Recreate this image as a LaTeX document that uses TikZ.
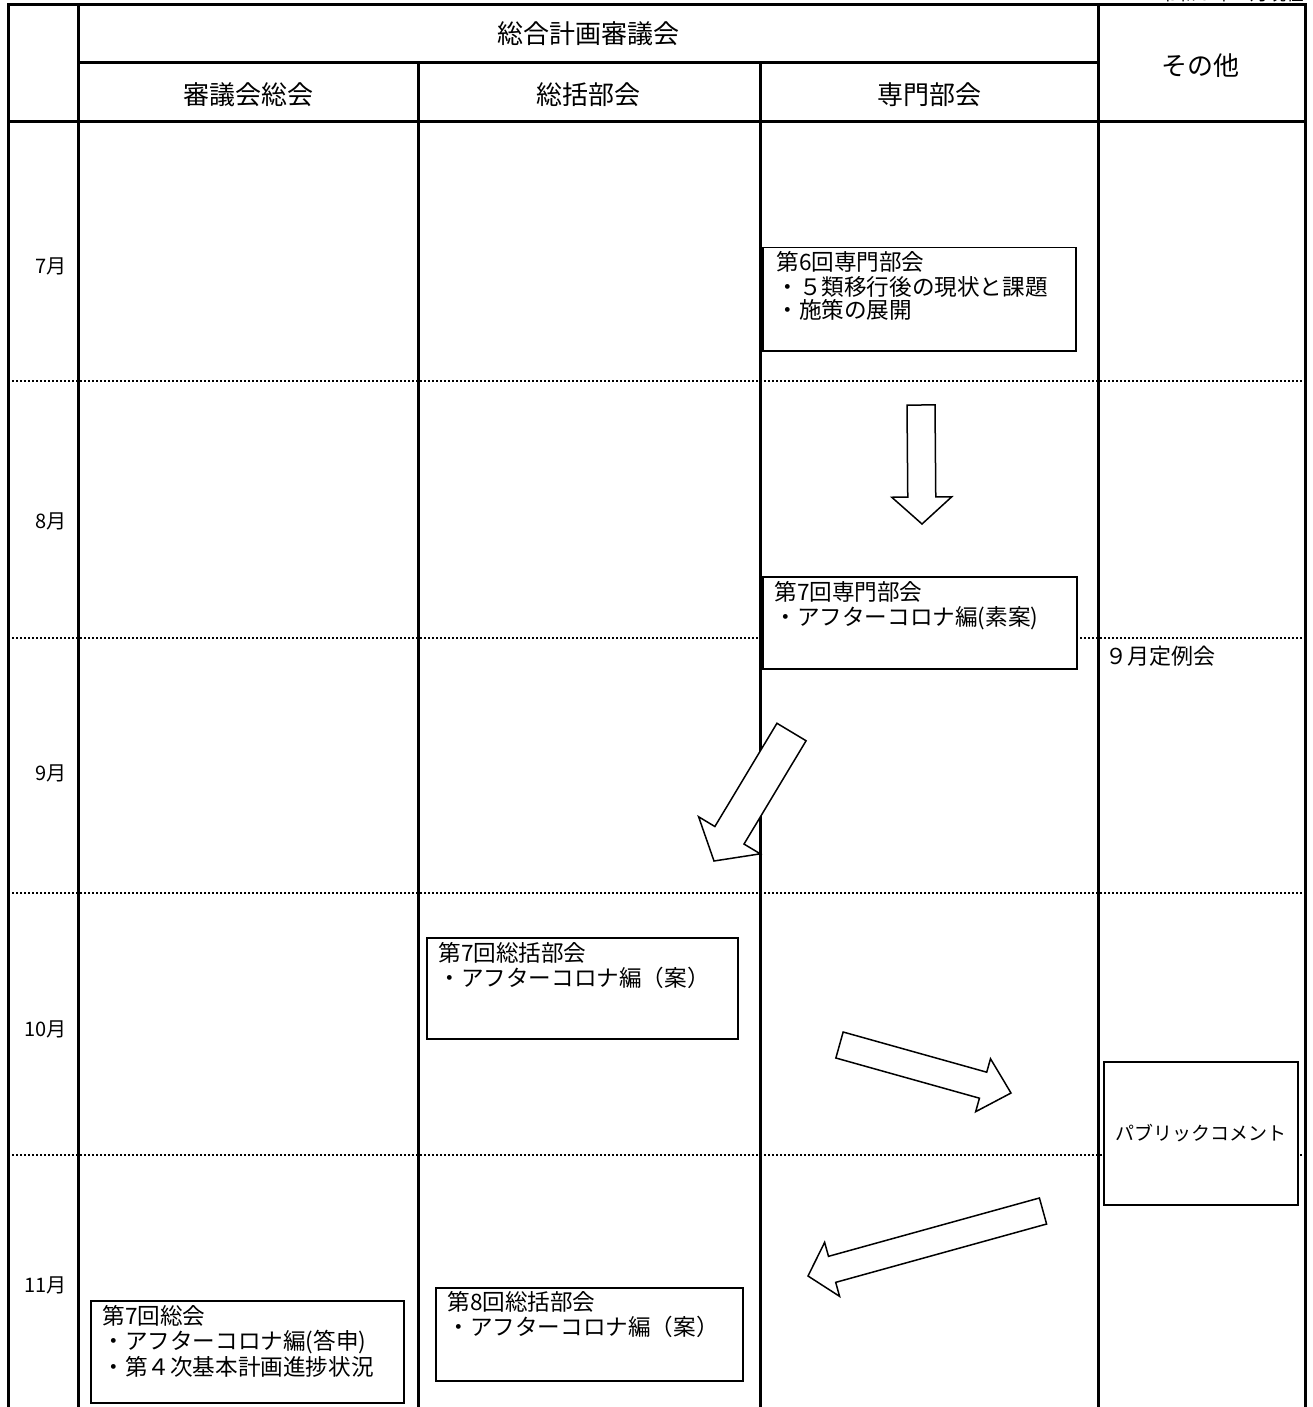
\documentclass[tikz,border=0pt]{standalone}
\usepackage{fontspec}
\setmainfont{Noto Sans CJK JP}
\usetikzlibrary{calc}

\tikzset{
  tableline/.style={line width=1.5pt},
  rowline/.style={line width=1pt, dash pattern=on 1pt off 1pt},
  evbox/.style={draw, fill=white, line width=0.75pt, anchor=north west, inner sep=0pt},
  evtext/.style={anchor=north west, align=left, inner sep=0pt, font=\fontsize{11.3}{10.4}\selectfont},
  headtext/.style={font=\fontsize{13}{13}\selectfont},
  arrowbody/.style={draw, fill=white, line width=0.75pt, line join=miter},
}

% tail, tip, half shaft width, half head width, head length
\newcommand{\drawblockarrow}[5]{
  \coordinate (hb) at ($(#2)!#5!(#1)$);
  \draw[arrowbody] ($(#1)!#3!90:(#2)$) -- ($(hb)!#3!90:(#2)$) -- ($(hb)!#4!90:(#2)$) -- (#2)
    -- ($(hb)!#4!-90:(#2)$) -- ($(hb)!#3!-90:(#2)$) -- ($(#1)!#3!-90:(#2)$) -- cycle;
}

\begin{document}
\begin{tikzpicture}[x=0.5pt, y=-0.5pt]
  \useasboundingbox (0,0) rectangle (1312,1407);

  % Date line, cut at the top edge
  \node[anchor=base east, inner sep=0pt, font=\fontsize{9}{9}\selectfont] (date) at (1305,1) {令和５年７月現在};

  % Month rows
  \foreach \y in {381, 638, 893, 1155} {
    \draw[rowline] (8,\y) -- (1305,\y);
  }
  \foreach \m/\y in {7月/266, 8月/521, 9月/773, 10月/1029, 11月/1285} {
    \node[anchor=east, inner sep=0pt, font=\fontsize{10}{10}\selectfont] (m\y) at (67,\y) {\m};
  }

  % Table frame
  \draw[tableline] (8,1407) -- (8,5) -- (1305,5) -- (1305,1407);
  \draw[tableline] (78,5) -- (78,1407);
  \draw[tableline] (1098,5) -- (1098,1407);
  \draw[tableline] (418,63) -- (418,1407);
  \draw[tableline] (760,63) -- (760,1407);
  \draw[tableline] (78,63) -- (1098,63);
  \draw[tableline] (8,122) -- (1305,122);

  % Headers
  \node[headtext] (council) at (588,34) {総合計画審議会};
  \node[headtext] (other) at (1200,66) {その他};
  \node[headtext] (general) at (248,95) {審議会総会};
  \node[headtext] (overall) at (588,95) {総括部会};
  \node[headtext] (expert) at (929,95) {専門部会};

  % Arrows
  \coordinate (a1t) at (921,405);
  \coordinate (a1h) at (922,524);
  \drawblockarrow{a1t}{a1h}{7pt}{15pt}{13.5pt}
  \coordinate (a2t) at (791.5,732);
  \coordinate (a2h) at (714,861);
  \drawblockarrow{a2t}{a2h}{8.5pt}{18pt}{15pt}
  \coordinate (a3t) at (839.5,1045);
  \coordinate (a3h) at (1011,1093);
  \drawblockarrow{a3t}{a3h}{6.75pt}{13.75pt}{14.5pt}
  \coordinate (a4t) at (1043,1211);
  \coordinate (a4h) at (808,1276);
  \drawblockarrow{a4t}{a4h}{6.75pt}{14pt}{12.5pt}

  % Meeting boxes
  \node[evbox, minimum width=156.5pt, minimum height=51.5pt] (sen6) at (762,247) {};
  \node[evtext] (sen6t) at ([shift={(14,4)}]sen6.north west) {第6回専門部会\\[1pt]・５類移行後の現状と課題\\・施策の展開};

  \node[evbox, minimum width=157pt, minimum height=46pt] (sen7) at (762,576) {};
  \node[evtext] (sen7t) at ([shift={(12,5)}]sen7.north west) {第7回専門部会\\[1pt]・アフターコロナ編(素案)};

  \node[evbox, minimum width=155.5pt, minimum height=50.5pt] (sou7) at (426,937) {};
  \node[evtext] (sou7t) at ([shift={(12,5)}]sou7.north west) {第7回総括部会\\[1pt]・アフターコロナ編（案）};

  \node[evbox, minimum width=153.5pt, minimum height=46.5pt] (sou8) at (435,1287) {};
  \node[evtext] (sou8t) at ([shift={(12,4)}]sou8.north west) {第8回総括部会\\[1pt]・アフターコロナ編（案）};

  \node[evbox, minimum width=156.5pt, minimum height=51pt] (gen7) at (90,1300) {};
  \node[evtext] (gen7t) at ([shift={(12,5)}]gen7.north west) {第7回総会\\[1pt]・アフターコロナ編(答申)\\・第４次基本計画進捗状況};

  % Other column
  \node[anchor=north west, inner sep=0pt, font=\fontsize{11}{11}\selectfont] (teirei) at (1105,646) {９月定例会};
  \node[evbox, minimum width=97pt, minimum height=71.5pt] (pub) at (1103,1061) {};
  \node[font=\fontsize{9.5}{9.5}\selectfont] (pubt) at (pub.center) {パブリックコメント};

\end{tikzpicture}
\end{document}
